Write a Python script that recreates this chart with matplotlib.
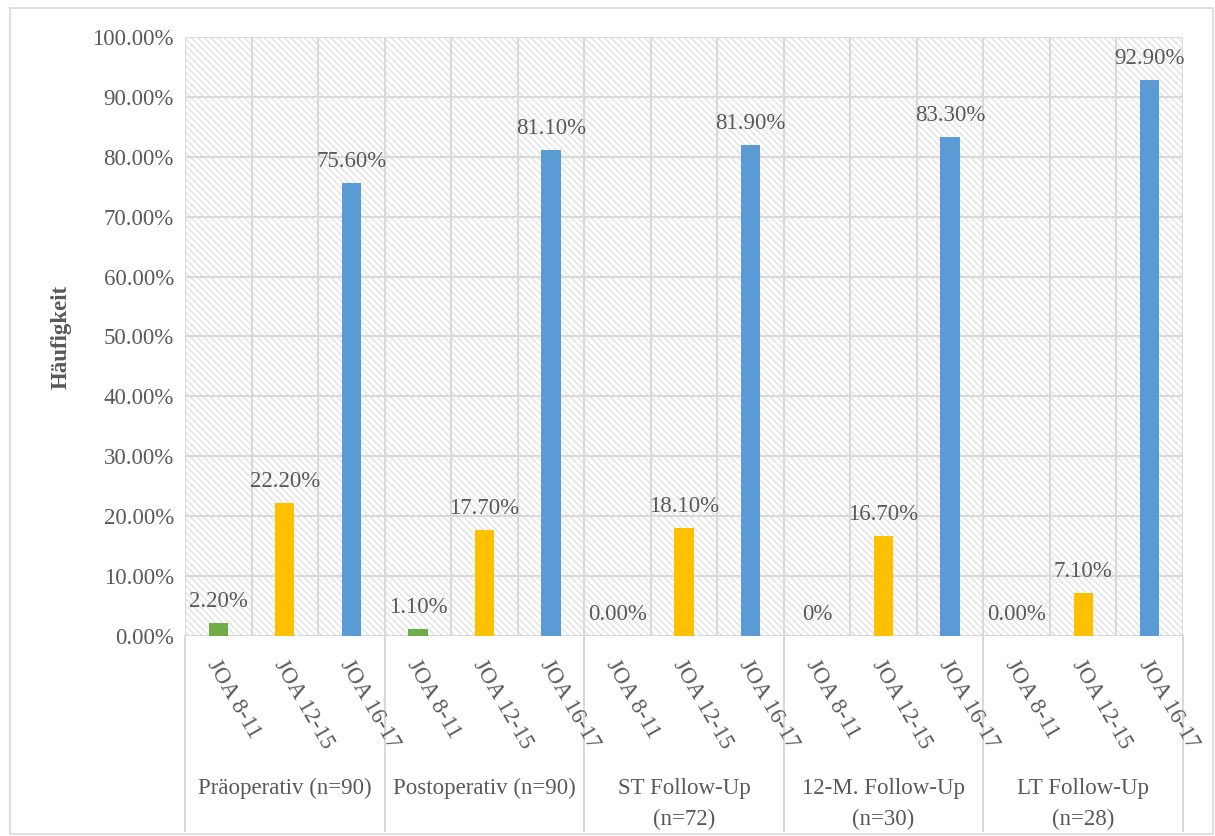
import matplotlib
matplotlib.use('Agg')
import matplotlib.pyplot as plt
import matplotlib.transforms as mtransforms
from matplotlib.patches import Rectangle
from matplotlib.ticker import PercentFormatter

plt.rcParams['font.family'] = ['Liberation Serif', 'DejaVu Serif']
plt.rcParams['hatch.linewidth'] = 1.0

groups = ['Präoperativ (n=90)', 'Postoperativ (n=90)', 'ST Follow-Up\n(n=72)',
          '12-M. Follow-Up\n(n=30)', 'LT Follow-Up\n(n=28)']
scores = ['JOA 8-11', 'JOA 12-15', 'JOA 16-17']
joa_8_11 = [2.2, 1.1, 0.0, 0.0, 0.0]
joa_12_15 = [22.2, 17.7, 18.1, 16.7, 7.1]
joa_16_17 = [75.6, 81.1, 81.9, 83.3, 92.9]
labels_8_11 = ['2.20%', '1.10%', '0.00%', '0%', '0.00%']

colors = ['#70AD47', '#FFC000', '#5B9BD5']
txt = '#595959'
grid_c = '#D9D9D9'
fs = 16.5

fig = plt.figure(figsize=(12.15, 8.36), dpi=100)
ax = fig.add_axes([185/1215, 200/836, 998/1215, 599/836])

# background hatch over the plot area
ax.add_patch(Rectangle((0, 0), 1, 1, transform=ax.transAxes, facecolor='white',
                       edgecolor='#E2E2E2', hatch='\\\\\\\\\\', lw=0, zorder=0))

series = [joa_8_11, joa_12_15, joa_16_17]
for g in range(len(groups)):
    for s in range(3):
        x = g*3 + s
        v = series[s][g]
        ax.bar(x, v, width=0.29, color=colors[s], zorder=2)
        lab = labels_8_11[g] if s == 0 else '%.2f%%' % v
        ax.annotate(lab, (x, v), xytext=(0, 11.5), textcoords='offset points',
                    ha='center', va='baseline', fontsize=fs, color=txt)

n = len(groups)*3
ax.set_xlim(-0.5, n-0.5)
ax.set_ylim(0, 100)
ax.set_yticks(range(0, 101, 10))
ax.yaxis.set_major_formatter(PercentFormatter(decimals=2))
ax.set_xticks([i+0.5 for i in range(-1, n)], minor=False)
ax.set_xticklabels([])
ax.grid(True, color=grid_c, lw=1.5)
ax.set_axisbelow(True)
for sp in ax.spines.values():
    sp.set_visible(False)
ax.tick_params(length=0, labelsize=fs, labelcolor=txt, pad=8)
ax.set_ylabel('Häufigkeit', fontsize=fs, fontweight='bold', color=txt, labelpad=15)

trans = mtransforms.blended_transform_factory(ax.transData, ax.transAxes)
for i in range(n):
    ax.text(i + 0.04, -0.033, scores[i % 3], transform=trans, rotation=-60,
            rotation_mode='anchor', ha='left', va='top', fontsize=fs, color=txt)
for g, name in enumerate(groups):
    ax.text(g*3 + 1, -0.237, name, transform=trans, ha='center', va='top',
            fontsize=fs, color=txt, linespacing=1.6)
for g in range(len(groups)+1):
    ax.plot([g*3 - 0.5]*2, [0, -0.325], transform=trans, color=grid_c, lw=1.5,
            clip_on=False)

# outer frame of the chart
fig.patches.append(Rectangle((10/1215, 2/836), 1203/1215, 826/836,
                             transform=fig.transFigure, fill=False,
                             edgecolor='#D9D9D9', lw=1.2))

fig.savefig('out.png', dpi=100)
